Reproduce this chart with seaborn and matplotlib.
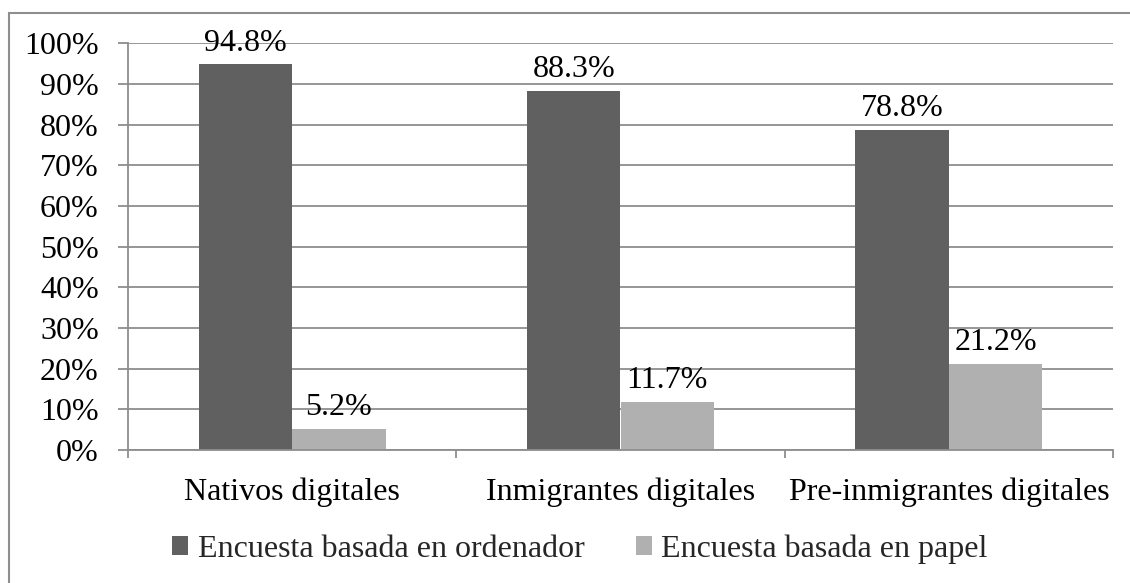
import matplotlib
matplotlib.use("Agg")
import matplotlib.pyplot as plt
import seaborn as sns
import pandas as pd
from matplotlib.patches import Rectangle
from matplotlib.ticker import FuncFormatter, FixedLocator

categories = ["Nativos digitales", "Inmigrantes digitales", "Pre-inmigrantes digitales"]
series_names = ["Encuesta basada en ordenador", "Encuesta basada en papel"]
ordenador = [94.8, 88.3, 78.8]
papel = [5.2, 11.7, 21.2]
colors = ["#606060", "#b0b0b0"]

df = pd.DataFrame({
    "cat": categories * 2,
    "serie": [series_names[0]] * 3 + [series_names[1]] * 3,
    "val": ordenador + papel,
})

sns.set_theme(style="white")
plt.rcParams["font.family"] = ["Liberation Serif", "DejaVu Serif"]

FS = 23
W, H = 1130, 583
fig = plt.figure(figsize=(W / 100, H / 100), dpi=100)
ax = fig.add_axes([128 / W, 1 - 450 / H, (1113 - 128) / W, (450 - 43.3) / H])

sns.barplot(data=df, x="cat", y="val", hue="serie", order=categories,
            hue_order=series_names, palette=colors, width=0.57, gap=0,
            saturation=1, ax=ax, linewidth=0, legend=True)

ax.set_ylim(0, 100)
ax.set_xlim(-0.5, 2.5)
ax.yaxis.set_major_locator(FixedLocator(range(0, 101, 10)))
ax.yaxis.set_major_formatter(FuncFormatter(lambda v, p: f"{int(round(v))}%"))
ax.grid(axis="y", color="#8e8e8e", linewidth=1.3)
ax.set_axisbelow(True)
ax.set_xlabel("")
ax.set_ylabel("")

for s in ["top", "right"]:
    ax.spines[s].set_visible(False)
for s in ["left", "bottom"]:
    ax.spines[s].set_color("#8e8e8e")
    ax.spines[s].set_linewidth(1.3)

ax.tick_params(axis="y", which="major", length=7, width=1.3, color="#8e8e8e",
               direction="out", left=True, labelsize=FS, pad=14, labelcolor="black")
ax.tick_params(axis="x", which="major", length=0, labelsize=FS, pad=20, labelcolor="black")
ax.xaxis.set_minor_locator(FixedLocator([-0.5, 0.5, 1.5, 2.5]))
ax.tick_params(axis="x", which="minor", length=6, width=1.3, color="#8e8e8e",
               direction="out", bottom=True)

for cont in ax.containers:
    ax.bar_label(cont, labels=[f"{v:.1f}%" for v in cont.datavalues],
                 padding=5, fontsize=FS, color="black")

handles, labels = ax.get_legend_handles_labels()
ax.legend(handles, labels, loc="center", bbox_to_anchor=(580 / W, 1 - 549 / H),
          bbox_transform=fig.transFigure, ncol=2, frameon=False, fontsize=FS,
          handlelength=0.5, handleheight=0.5, handletextpad=0.3, columnspacing=1.6)

fig.patches.append(Rectangle((9 / W, -0.05), 1.2, (583 - 13) / H + 0.05,
                             transform=fig.transFigure, fill=False,
                             edgecolor="#8e8e8e", linewidth=1.5, clip_on=False))

fig.savefig("out.png", dpi=100)
